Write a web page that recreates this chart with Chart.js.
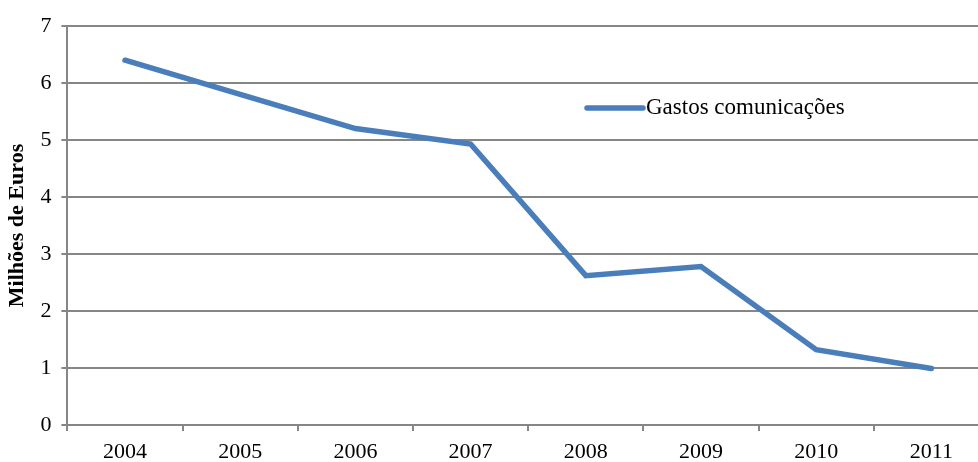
<!DOCTYPE html>
<html>
<head>
<meta charset="utf-8">
<script src="https://cdn.jsdelivr.net/npm/chart.js@4"></script>
<style>
  html, body { margin: 0; padding: 0; background: #fff; overflow: hidden; }
  #wrap { width: 990px; height: 462px; }
</style>
</head>
<body>
<div id="wrap"><canvas id="gastosChart"></canvas></div>
<script>
// data
const anos = ['2004', '2005', '2006', '2007', '2008', '2009', '2010', '2011'];
const gastos = [6.4, 5.8, 5.2, 4.93, 2.62, 2.78, 1.32, 0.99];
const yTicks = [0, 1, 2, 3, 4, 5, 6, 7];

const serif = "'Liberation Serif', 'DejaVu Serif', serif";
const grey = '#868686';

// legend drawn inside the plot
const legendInside = {
    id: 'legendInside',
    afterDraw(chart) {
        const c = chart.ctx;
        const ds = chart.data.datasets[0];
        const x0 = 587, y0 = 108;
        c.save();
        c.strokeStyle = ds.borderColor;
        c.lineWidth = 5.5;
        c.lineCap = 'round';
        c.beginPath();
        c.moveTo(x0, y0);
        c.lineTo(x0 + 56, y0);
        c.stroke();
        c.fillStyle = '#000';
        c.font = '23px ' + serif;
        c.textBaseline = 'middle';
        c.fillText(ds.label, x0 + 59, y0);
        c.restore();
    }
};

new Chart(document.getElementById('gastosChart'), {
    type: 'line',
    data: {
        labels: anos,
        datasets: [{
            label: 'Gastos comunicações',
            data: gastos,
            borderColor: '#4A7EBB',
            borderWidth: 5.5,
            borderCapStyle: 'round',
            borderJoinStyle: 'miter',
            pointRadius: 0,
            tension: 0,
            fill: false
        }]
    },
    options: {
        responsive: true,
        maintainAspectRatio: false,
        animation: false,
        layout: { padding: { top: 26, right: 1, bottom: 0, left: 4 } },
        plugins: {
            legend: { display: false },
            tooltip: { enabled: false }
        },
        scales: {
            x: {
                offset: true,
                afterFit(scale) { scale.height = 37; },
                grid: {
                    offset: true,
                    drawOnChartArea: false,
                    drawTicks: true,
                    tickLength: 6,
                    color: grey,
                    lineWidth: 2
                },
                border: { color: grey, width: 2 },
                ticks: {
                    color: '#000',
                    font: { family: serif, size: 22, lineHeight: 1 },
                    padding: 10,
                    maxRotation: 0
                }
            },
            y: {
                min: 0,
                max: 7,
                afterBuildTicks(scale) {
                    scale.ticks = yTicks.map(v => ({ value: v }));
                },
                grid: {
                    color: grey,
                    lineWidth: 2,
                    tickLength: 6
                },
                border: { color: grey, width: 2 },
                ticks: {
                    color: '#000',
                    font: { family: serif, size: 22 },
                    padding: 10
                },
                title: {
                    display: true,
                    text: 'Milhões de Euros',
                    color: '#000',
                    font: { family: serif, size: 22, weight: 'bold' },
                    padding: 0
                }
            }
        }
    },
    plugins: [legendInside]
});
</script>
</body>
</html>
